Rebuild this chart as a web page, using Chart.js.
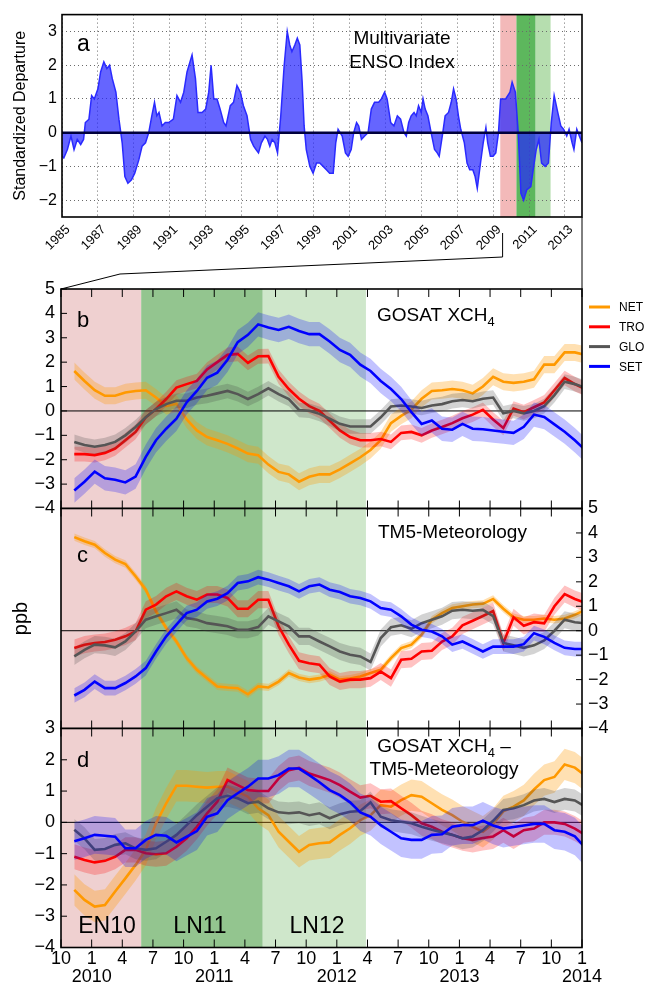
<!DOCTYPE html>
<html><head><meta charset="utf-8">
<script src="https://cdn.jsdelivr.net/npm/chart.js@4.4.1/dist/chart.umd.min.js"></script>
<style>
html,body{margin:0;padding:0;background:#fff;}
#wrap{position:relative;width:648px;height:984px;overflow:hidden;background:#fff;}
#wrap canvas{position:absolute;left:0;top:0;}
</style></head><body>
<div id="wrap">
<canvas id="cA" width="648" height="984"></canvas>
<canvas id="cB" width="648" height="984"></canvas>
<canvas id="cC" width="648" height="984"></canvas>
<canvas id="cD" width="648" height="984"></canvas>
</div>
<script>
// ---------------- DATA ----------------
// Panel a: Multivariate ENSO Index (decimal year, standardized departure)
const meiYears = [
 1985.0,1985.1,1985.3,1985.5,1985.67,1985.85,
 1986.04,1986.2,1986.3,1986.5,1986.65,1986.8,
 1987.0,1987.15,1987.33,1987.5,1987.65,1987.8,
 1988.0,1988.17,1988.35,1988.5,1988.67,1988.87,
 1989.05,1989.28,1989.46,1989.65,1989.83,
 1990.0,1990.15,1990.28,1990.4,1990.57,1990.75,1990.94,
 1991.2,1991.4,1991.6,1991.78,1991.96,
 1992.24,1992.43,1992.57,1992.8,
 1993.0,1993.17,1993.3,1993.45,1993.63,1993.8,
 1994.0,1994.13,1994.37,1994.55,1994.74,1994.93,
 1995.1,1995.3,1995.5,1995.67,1995.8,1995.94,
 1996.1,1996.3,1996.44,1996.57,1996.7,1996.85,
 1997.0,1997.18,1997.37,1997.54,1997.68,1997.8,1997.96,
 1998.1,1998.24,1998.37,1998.48,1998.6,1998.8,1998.98,
 1999.17,1999.35,1999.54,1999.72,1999.9,
 2000.1,2000.24,2000.37,2000.6,2000.78,2000.93,
 2001.1,2001.24,2001.4,2001.52,2001.67,2001.85,
 2002.04,2002.22,2002.4,2002.63,2002.78,2002.96,
 2003.1,2003.3,2003.48,2003.67,2003.85,
 2004.04,2004.17,2004.3,2004.44,2004.6,2004.72,2004.85,
 2005.0,2005.1,2005.22,2005.37,2005.55,2005.74,2005.89,
 2006.0,2006.2,2006.33,2006.52,2006.67,2006.8,2006.94,
 2007.07,2007.2,2007.4,2007.55,2007.7,2007.87,
 2008.0,2008.12,2008.3,2008.45,2008.6,2008.7,2008.85,
 2009.0,2009.15,2009.3,2009.42,2009.7,2009.94,
 2010.06,2010.24,2010.4,2010.55,2010.7,2010.87,
 2011.1,2011.26,2011.4,2011.55,2011.7,2011.9,
 2012.08,2012.24,2012.4,2012.6,2012.77,2012.93,
 2013.1,2013.23,2013.4,2013.5,2013.66,2013.8,2013.95];
const meiValues = [
 -0.7,-0.75,-0.5,-0.1,-0.5,-0.2,
 -0.35,-0.2,0.3,0.4,1.1,1.0,
 1.3,1.8,2.1,1.9,2.0,1.6,
 1.2,0.4,-0.3,-1.3,-1.5,-1.4,
 -1.2,-0.8,-0.4,-0.3,0.0,
 0.5,0.9,0.5,0.6,0.2,0.3,0.3,
 0.4,1.1,0.9,1.2,1.8,
 2.3,1.6,0.6,0.6,
 0.7,1.2,2.0,1.0,1.0,0.7,
 0.3,0.2,0.8,0.9,1.4,1.2,
 0.8,0.5,-0.2,-0.4,-0.5,-0.6,
 -0.3,-0.1,-0.2,-0.4,-0.2,-0.3,
 -0.6,0.5,2.0,3.0,2.6,2.4,2.6,
 2.8,2.6,1.5,0.2,-0.5,-1.0,-1.2,
 -0.9,-0.9,-1.0,-1.1,-1.2,
 -1.2,-0.3,0.1,-0.1,-0.6,-0.7,
 -0.5,0.0,0.3,0.2,-0.2,-0.1,
 0.0,0.7,0.9,0.9,1.0,1.2,
 1.0,0.3,0.2,0.5,0.4,
 0.0,-0.1,0.3,0.5,0.6,0.5,0.8,
 0.6,1.0,0.7,0.5,0.0,-0.5,-0.6,
 -0.7,0.0,0.5,0.6,0.9,1.3,1.0,
 0.5,0.1,-0.3,-0.9,-1.1,-1.1,
 -1.3,-1.65,-0.9,-0.3,0.15,-0.3,-0.7,
 -0.7,-0.6,0.0,1.0,1.0,1.2,
 1.5,1.2,0.0,-1.8,-2.0,-1.7,
 -1.6,-1.0,-0.5,-0.2,-0.9,-1.0,
 -0.9,0.3,1.1,0.6,0.2,0.1,
 -0.1,0.1,-0.3,-0.5,0.1,-0.1,-0.3];
const meiTickYears = [1985,1987,1989,1991,1993,1995,1997,1999,2001,2003,2005,2007,2009,2011,2013];
const meiTickValues = [-2,-1,0,1,2,3];

// ENSO periods (panel a in decimal years, panels b-d in months since Oct 2009)
const periodNames = ['EN10','LN11','LN12'];
const periodStartA = [2009.4, 2010.3, 2011.37];
const periodEndA   = [2010.3, 2011.37, 2012.2];
const periodStart  = [0, 7.85, 19.75];
const periodEnd    = [7.85, 19.75, 29.85];
const zoomFromYear = 2009.53;

// Panels b-d: monthly anomalies (ppb); first point at month 1.3 after Oct 2009
const firstMonth = 1.3;
const seriesNames = ['NET','TRO','GLO','SET'];

const netB = [1.64,1.23,0.85,0.62,0.62,0.76,0.82,0.85,0.55,0.2,0.3,-0.35,-0.8,-1.07,-1.2,-1.35,-1.54,-1.75,-1.82,
 -2.2,-2.5,-2.6,-2.9,-2.7,-2.6,-2.6,-2.4,-2.15,-1.9,-1.6,-1.2,-0.5,-0.2,0.05,0.5,0.82,0.85,0.9,0.85,0.72,
 1.0,1.4,1.2,1.15,1.2,1.3,1.9,1.9,2.4,2.4,2.3];
const troB = [-1.77,-1.77,-1.81,-1.72,-1.54,-1.2,-0.86,-0.26,0.08,0.49,0.96,1.1,1.23,1.7,2.0,2.3,2.34,1.97,2.24,
 2.25,1.4,0.9,0.5,0.2,0.0,-0.4,-0.8,-1.07,-1.2,-1.2,-1.15,-1.27,-0.9,-0.86,-1.0,-0.8,-0.66,-0.5,-0.3,-0.15,
 0.05,-0.35,-0.7,0.1,-0.05,0.15,0.35,0.85,1.35,1.1,0.9];
const gloB = [-1.27,-1.4,-1.47,-1.4,-1.27,-1.0,-0.66,-0.26,0.08,0.28,0.42,0.42,0.55,0.62,0.72,0.82,0.69,0.49,0.69,
 0.93,0.69,0.49,0.04,0.01,-0.12,-0.32,-0.53,-0.64,-0.64,-0.64,-0.26,0.18,0.22,0.18,0.12,0.22,0.28,0.4,0.45,0.4,
 0.5,0.55,-0.1,0.0,-0.1,0.0,0.2,0.65,1.2,1.1,0.95];
const setB = [-3.26,-2.9,-2.49,-2.76,-2.82,-2.93,-2.69,-1.88,-1.2,-0.73,-0.32,0.35,0.82,1.36,1.57,2.1,2.82,3.12,3.55,
 3.42,3.32,3.45,3.28,3.15,3.15,2.85,2.5,2.3,1.9,1.64,1.23,0.9,0.49,-0.05,-0.53,-0.39,-0.73,-0.77,-0.53,-0.73,
 -0.75,-0.8,-0.85,-0.9,-0.65,-0.15,-0.25,-0.55,-0.85,-1.2,-1.6];

const netC = [3.83,3.66,3.52,3.18,2.91,2.73,2.23,1.68,0.79,0.11,-0.44,-1.12,-1.6,-1.94,-2.28,-2.32,-2.35,-2.6,-2.28,
 -2.32,-2.08,-1.73,-1.91,-2.0,-1.94,-1.8,-2.0,-1.96,-1.87,-1.73,-1.6,-1.12,-0.71,-0.57,-0.16,0.45,0.72,0.93,1.0,1.07,
 1.1,1.3,0.9,0.55,0.45,0.45,0.5,0.45,0.5,0.65,0.85];
const troC = [-0.71,-0.57,-0.5,-0.46,-0.37,-0.23,-0.03,0.86,1.07,1.41,1.61,1.41,1.27,1.48,1.48,1.34,0.9,0.9,1.27,
 1.27,0.18,-0.57,-1.23,-1.33,-1.39,-1.87,-2.08,-2.0,-2.0,-1.94,-1.67,-1.94,-1.19,-1.15,-0.85,-0.82,-0.44,-0.23,0.22,0.41,
 0.6,0.8,-0.5,0.55,0.2,0.35,0.3,1.0,1.5,1.3,1.15];
const gloC = [-1.05,-0.78,-0.57,-0.6,-0.68,-0.44,-0.03,0.45,0.59,0.72,0.86,0.52,0.45,0.31,0.25,0.18,0.04,0.04,0.15,
 0.59,0.38,0.18,-0.23,-0.23,-0.44,-0.64,-0.85,-0.98,-1.05,-1.28,-0.3,0.14,0.22,0.08,0.31,0.45,0.59,0.82,0.86,0.82,
 0.85,0.6,-0.5,-0.6,-0.7,-0.6,-0.4,0.0,0.45,0.35,0.3];
const setC = [-2.65,-2.42,-2.08,-2.35,-2.35,-2.14,-1.87,-1.53,-0.85,-0.23,0.25,0.72,0.86,1.2,1.31,1.54,1.95,2.02,2.19,
 2.09,1.95,1.82,1.61,1.82,1.89,1.68,1.58,1.41,1.34,1.2,0.93,0.86,0.59,0.25,0.04,-0.03,-0.23,-0.57,-0.44,-0.64,
 -0.85,-0.65,-0.65,-0.65,-0.55,-0.1,-0.25,-0.5,-0.7,-0.75,-0.75];

const netD = [-2.16,-2.48,-2.69,-2.64,-2.21,-1.79,-1.36,-0.88,-0.03,0.61,1.17,1.17,1.14,1.11,1.14,1.14,0.98,0.82,0.45,
 0.23,-0.3,-0.62,-0.94,-0.72,-0.67,-0.64,-0.4,-0.19,0.07,0.23,0.55,0.5,0.71,0.87,0.82,0.61,0.4,0.23,0.02,-0.14,
 -0.3,-0.05,0.35,0.5,0.7,1.05,1.35,1.45,1.85,1.75,1.5];
const troD = [-1.1,-1.2,-1.28,-1.23,-1.1,-0.88,-0.88,-0.99,-1.02,-0.99,-0.78,-0.51,-0.14,0.29,0.66,1.35,1.19,1.03,1.0,
 1.0,1.4,1.67,1.74,1.56,1.46,1.35,1.19,0.98,0.79,0.85,0.66,0.68,0.45,0.23,-0.03,-0.14,-0.3,-0.4,-0.51,-0.56,
 -0.5,-0.45,-0.25,-0.45,-0.25,-0.2,0.0,0.0,-0.05,-0.2,-0.4];
const gloD = [-0.24,-0.51,-0.88,-0.85,-0.72,-0.67,-0.83,-0.88,-0.83,-0.62,-0.4,-0.09,0.23,0.5,0.77,0.85,0.77,0.61,0.66,
 0.45,0.32,0.29,0.32,0.23,0.29,0.13,0.26,0.34,0.36,0.64,0.18,0.07,0.02,-0.03,-0.14,-0.24,-0.32,-0.4,-0.51,-0.45,
 -0.25,0.05,0.4,0.45,0.55,0.7,0.75,0.65,0.75,0.7,0.5];
const setD = [-0.6,-0.51,-0.4,-0.43,-0.46,-0.83,-0.83,-0.56,-0.4,-0.43,-0.64,-0.46,-0.28,0.18,0.29,0.71,0.93,1.14,1.4,
 1.4,1.51,1.72,1.72,1.51,1.28,1.03,0.87,0.64,0.32,0.18,-0.09,-0.3,-0.51,-0.56,-0.56,-0.4,-0.38,-0.14,-0.09,-0.09,
 0.05,-0.1,-0.2,-0.15,-0.1,-0.05,-0.05,-0.25,-0.3,-0.45,-0.8];

// uncertainty half-widths (ppb) per series NET, TRO, GLO, SET
const errB = [0.35, 0.3, 0.3, 0.5];
const errC = [0.15, 0.35, 0.35, 0.3];
const errD = [0.5, 0.4, 0.35, 0.6];

const monthTickValues = [0,3,6,9,12,15,18,21,24,27,30,33,36,39,42,45,48,51];
const monthTickLabels = ['10','1','4','7','10','1','4','7','10','1','4','7','10','1','4','7','10','1'];
const yearTickLabels  = ['','2010','','','','2011','','','','2012','','','','2013','','','','2014'];
const tickB = [5,4,3,2,1,0,-1,-2,-3,-4];
const tickC = [5,4,3,2,1,0,-1,-2,-3,-4];
const tickD = [3,2,1,0,-1,-2,-3,-4];

// ---------------- STYLE ----------------
const FONT = "'Liberation Sans', Arial, Helvetica, sans-serif";
const lineColors = ['#ff9900','#ff0000','#555555','#0000ff'];
const bandColors = ['rgba(255,153,0,0.30)','rgba(255,0,0,0.24)','rgba(70,70,70,0.24)','rgba(0,0,255,0.24)'];
const shadeColorsA = ['#f3b9b9','#5db75d','#b6deaf'];
const shadeColors  = ['#efd0d0','#93c58f','#cfe7cb'];

Chart.defaults.font.family = FONT;
Chart.defaults.color = '#000';
Chart.defaults.animation = false;
Chart.defaults.events = [];
Chart.defaults.plugins.legend.display = false;
Chart.defaults.plugins.tooltip.enabled = false;

const fmt = v => (v < 0 ? '\u2212' + Math.abs(v) : String(v));
const setTicks = vals => scale => { scale.ticks = vals.map(v => ({value: v})); };

function drawRich(ctx, t) {
  const size = t.size;
  const parts = t.parts;
  let w = 0;
  parts.forEach(p => { ctx.font = (p.sub ? size * 0.68 : size) + 'px ' + FONT; p.w = ctx.measureText(p.s).width; w += p.w; });
  let x = t.align === 'center' ? t.x - w / 2 : t.x;
  ctx.fillStyle = '#000';
  ctx.textBaseline = 'alphabetic';
  ctx.textAlign = 'left';
  parts.forEach(p => {
    ctx.font = (p.sub ? size * 0.68 : size) + 'px ' + FONT;
    ctx.fillText(p.s, x, t.y + (p.sub ? size * 0.28 : 0));
    x += p.w;
  });
}
function seg(ctx, x1, y1, x2, y2) { ctx.beginPath(); ctx.moveTo(x1, y1); ctx.lineTo(x2, y2); ctx.stroke(); }
function drawZero(chart, z) {
  const {ctx, chartArea: a} = chart; const y = chart.scales.y.getPixelForValue(0);
  ctx.save(); ctx.strokeStyle = z.color; ctx.lineWidth = z.width; seg(ctx, a.left, y, a.right, y); ctx.restore();
}

const deco = {
  id: 'deco',
  beforeDraw(chart, args, o) {
    if (!o.shades) return;
    const {ctx, chartArea: a} = chart; const xs = chart.scales.x;
    ctx.save();
    o.shades.from.forEach((f, i) => {
      const x1 = Math.max(a.left, xs.getPixelForValue(f));
      const x2 = Math.min(a.right, xs.getPixelForValue(o.shades.to[i]));
      ctx.fillStyle = o.shades.colors[i];
      ctx.fillRect(x1, a.top, x2 - x1, a.bottom - a.top);
    });
    ctx.restore();
  },
  beforeDatasetsDraw(chart, args, o) { if (o.zeroBelow) drawZero(chart, o.zeroBelow); },
  afterDatasetsDraw(chart, args, o) { if (o.zeroAbove) drawZero(chart, o.zeroAbove); },
  afterDraw(chart, args, o) {
    const {ctx, chartArea: a} = chart;
    if (!o.frame) return;
    ctx.save();
    ctx.strokeStyle = '#000'; ctx.lineWidth = 1;
    if (o.xTicks) {
      const xs = chart.scales.x;
      o.xTicks.forEach(v => {
        const px = xs.getPixelForValue(v);
        seg(ctx, px, a.top, px, a.top + 8);
        seg(ctx, px, a.bottom, px, a.bottom - 8);
      });
    }
    if (o.yTickSide) {
      const ys = chart.scales.y;
      ys.ticks.forEach(t => {
        const py = ys.getPixelForValue(t.value);
        if (o.yTickSide === 'left') seg(ctx, a.left, py, a.left + 6, py);
        else seg(ctx, a.right, py, a.right - 6, py);
      });
    }
    ctx.lineWidth = 1.6;
    ctx.strokeRect(a.left, a.top, a.right - a.left, a.bottom - a.top);
    (o.texts || []).forEach(t => drawRich(ctx, t));
    if (o.legend) {
      const L = o.legend; let k = 0;
      chart.data.datasets.forEach(d => {
        if (!d.label) return;
        const y = L.y + k * L.dy;
        ctx.strokeStyle = d.borderColor; ctx.lineWidth = 3;
        seg(ctx, L.x, y, L.x + L.len, y);
        ctx.fillStyle = '#000'; ctx.font = L.size + 'px ' + FONT;
        ctx.textBaseline = 'middle'; ctx.textAlign = 'left';
        ctx.fillText(d.label, L.textX, y + 1);
        k++;
      });
    }
    if (o.connector) {
      const xs = chart.scales.x; const C = o.connector;
      const xz = xs.getPixelForValue(C.fromYear);
      ctx.strokeStyle = '#000'; ctx.lineWidth = 1;
      ctx.beginPath();
      ctx.moveTo(xz, C.y0); ctx.lineTo(xz, C.y1); ctx.lineTo(C.kx, C.ky); ctx.lineTo(C.endX, C.endY);
      ctx.stroke();
      seg(ctx, a.right, a.bottom, a.right, C.endY);
    }
    ctx.restore();
  }
};
Chart.register(deco);

// ---------------- PANEL A ----------------
new Chart(document.getElementById('cA'), {
  type: 'line',
  data: { datasets: [{
    data: meiYears.map((x, i) => ({x: x, y: meiValues[i]})),
    borderColor: '#2a2aff', borderWidth: 1.5, backgroundColor: 'rgba(35,35,255,0.70)',
    fill: 'origin', pointRadius: 0, tension: 0, clip: 0
  }]},
  options: {
    responsive: false, devicePixelRatio: 1,
    layout: { autoPadding: false, padding: { left: 0, top: 12, right: 66, bottom: 707 } },
    scales: {
      x: { type: 'linear', min: 1985, max: 2013.95,
        afterBuildTicks: setTicks(meiTickYears), afterFit: s => { s.height = 60; },
        ticks: { autoSkip: false, minRotation: 45, maxRotation: 45, labelOffset: 6, padding: 5,
                 font: { size: 13 }, callback: v => String(v) },
        grid: { color: '#6a6a6a', lineWidth: 1, drawTicks: false },
        border: { display: false, dash: [1, 3] } },
      y: { min: -2.5, max: 3.5,
        afterBuildTicks: setTicks(meiTickValues), afterFit: s => { s.width = 62; },
        ticks: { autoSkip: false, font: { size: 16 }, padding: 5, callback: fmt },
        grid: { color: '#6a6a6a', lineWidth: 1, drawTicks: false },
        border: { display: false, dash: [1, 3] },
        title: { display: true, text: 'Standardized Departure', font: { size: 16 }, padding: { top: 11, bottom: 0 } } }
    },
    plugins: { deco: {
      frame: true,
      shades: { from: periodStartA, to: periodEndA, colors: shadeColorsA },
      zeroAbove: { color: '#00003c', width: 2.5 },
      connector: { fromYear: zoomFromYear, y0: 233, y1: 257, kx: 120, ky: 274, endX: 61, endY: 289 },
      texts: [
        { parts: [{s: 'a'}], x: 77, y: 51, size: 23 },
        { parts: [{s: 'Multivariate'}], x: 402, y: 44, size: 19, align: 'center' },
        { parts: [{s: 'ENSO Index'}], x: 402, y: 68, size: 19, align: 'center' }
      ]
    } }
  }
});

// ---------------- PANELS B-D ----------------
function buildDatasets(series, errs) {
  const ds = [];
  series.forEach((arr, s) => {
    const pts = sign => arr.map((v, i) => ({x: firstMonth + i, y: v + sign * errs[s]}));
    ds.push({ data: pts(1), borderWidth: 0, borderColor: 'transparent', pointRadius: 0, fill: false });
    ds.push({ data: pts(-1), borderWidth: 0, borderColor: 'transparent', pointRadius: 0, fill: '-1', backgroundColor: bandColors[s] });
    ds.push({ label: seriesNames[s], data: pts(0), borderColor: lineColors[s], borderWidth: 2.6, pointRadius: 0, fill: false });
  });
  ds.forEach((d, i) => { d.order = ds.length - i; d.clip = 0; d.tension = 0; });
  return ds;
}
const xHidden = { type: 'linear', min: 0, max: 51, display: false };
const yLeft = ticks => ({ min: Math.min(...ticks), max: Math.max(...ticks),
  afterBuildTicks: setTicks(ticks), afterFit: s => { s.width = 61; },
  ticks: { autoSkip: false, font: { size: 18 }, padding: 6, callback: fmt },
  grid: { display: false, drawTicks: false }, border: { display: false } });

new Chart(document.getElementById('cB'), {
  type: 'line',
  data: { datasets: buildDatasets([netB, troB, gloB, setB], errB) },
  options: {
    responsive: false, devicePixelRatio: 1,
    layout: { autoPadding: false, padding: { left: 0, top: 289, right: 66, bottom: 475.5 } },
    scales: { x: xHidden, y: yLeft(tickB) },
    plugins: { deco: {
      frame: true, xTicks: monthTickValues, yTickSide: 'left',
      shades: { from: periodStart, to: periodEnd, colors: shadeColors },
      zeroBelow: { color: '#000', width: 1 },
      legend: { x: 589, y: 307, dy: 19.8, len: 21, textX: 619, size: 12 },
      texts: [
        { parts: [{s: 'b'}], x: 77, y: 327, size: 22 },
        { parts: [{s: 'GOSAT XCH'}, {s: '4', sub: true}], x: 377, y: 321, size: 19 }
      ]
    } }
  }
});

new Chart(document.getElementById('cC'), {
  type: 'line',
  data: { datasets: buildDatasets([netC, troC, gloC, setC], errC) },
  options: {
    responsive: false, devicePixelRatio: 1,
    layout: { autoPadding: false, padding: { left: 0, top: 508.5, right: 0, bottom: 255.5 } },
    scales: {
      x: xHidden,
      y: { position: 'right', min: -4, max: 5,
        afterBuildTicks: setTicks(tickC), afterFit: s => { s.width = 66; },
        ticks: { autoSkip: false, font: { size: 18 }, padding: 6, callback: fmt },
        grid: { display: false, drawTicks: false }, border: { display: false } },
      yl: { position: 'left', min: -4, max: 5, afterFit: s => { s.width = 61; },
        ticks: { display: false }, grid: { display: false, drawTicks: false }, border: { display: false },
        title: { display: true, text: 'ppb', font: { size: 20 }, padding: { top: 9, bottom: 0 } } }
    },
    plugins: { deco: {
      frame: true, xTicks: monthTickValues, yTickSide: 'right',
      shades: { from: periodStart, to: periodEnd, colors: shadeColors },
      zeroBelow: { color: '#000', width: 1 },
      texts: [
        { parts: [{s: 'c'}], x: 77, y: 562, size: 22 },
        { parts: [{s: 'TM5-Meteorology'}], x: 378, y: 538, size: 19 }
      ]
    } }
  }
});

new Chart(document.getElementById('cD'), {
  type: 'line',
  data: { datasets: buildDatasets([netD, troD, gloD, setD], errD) },
  options: {
    responsive: false, devicePixelRatio: 1,
    layout: { autoPadding: false, padding: { left: 0, top: 728.5, right: 66, bottom: 0 } },
    scales: {
      x: { type: 'linear', min: 0, max: 51,
        afterBuildTicks: setTicks(monthTickValues), afterFit: s => { s.height = 36.5; },
        ticks: { autoSkip: false, minRotation: 0, maxRotation: 0, padding: 2,
                 font: { size: 18, lineHeight: 1.03 },
                 callback: (v, i) => yearTickLabels[i] ? [monthTickLabels[i], yearTickLabels[i]] : monthTickLabels[i] },
        grid: { display: false, drawTicks: false }, border: { display: false } },
      y: yLeft(tickD)
    },
    plugins: { deco: {
      frame: true, xTicks: monthTickValues, yTickSide: 'left',
      shades: { from: periodStart, to: periodEnd, colors: shadeColors },
      zeroBelow: { color: '#000', width: 1 },
      texts: [
        { parts: [{s: 'd'}], x: 77, y: 767, size: 22 },
        { parts: [{s: 'GOSAT XCH'}, {s: '4', sub: true}, {s: ' \u2013'}], x: 444, y: 752, size: 19, align: 'center' },
        { parts: [{s: 'TM5-Meteorology'}], x: 444, y: 775, size: 19, align: 'center' },
        { parts: [{s: periodNames[0]}], x: 107, y: 933, size: 23, align: 'center' },
        { parts: [{s: periodNames[1]}], x: 200, y: 933, size: 23, align: 'center' },
        { parts: [{s: periodNames[2]}], x: 317, y: 933, size: 23, align: 'center' }
      ]
    } }
  }
});
</script>
</body></html>
